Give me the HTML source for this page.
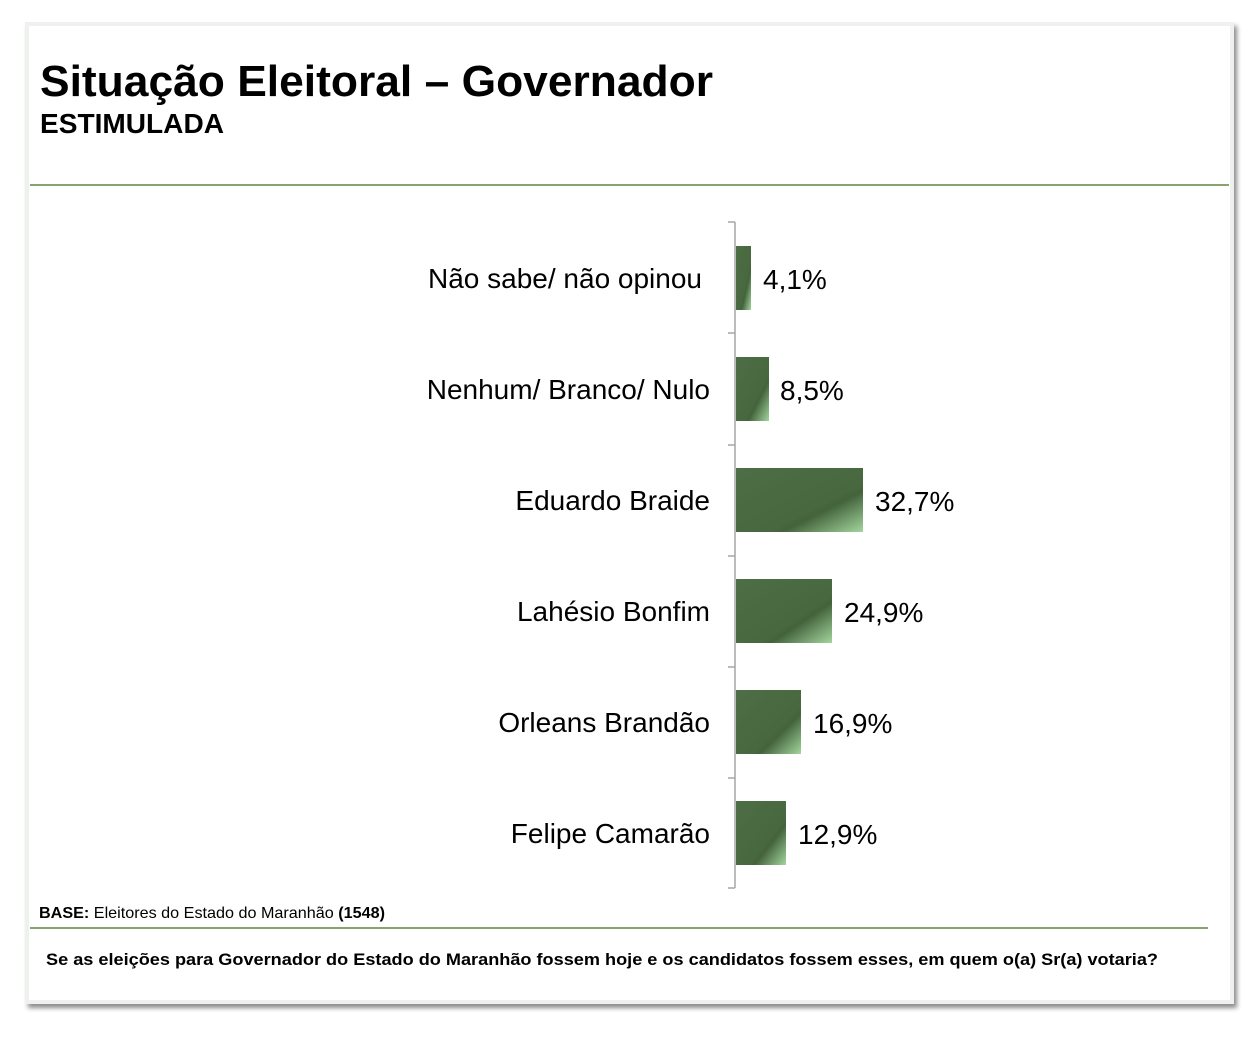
<!DOCTYPE html>
<html><head><meta charset="utf-8"><style>
html,body{margin:0;padding:0;background:#fff;width:1260px;height:1038px;overflow:hidden}
svg{display:block}
text{font-family:"Liberation Sans",Arial,sans-serif;fill:#000}
</style></head><body>
<svg width="1260" height="1038" viewBox="0 0 1260 1038" xmlns="http://www.w3.org/2000/svg">
<defs>
<linearGradient id="g" x1="0" y1="0" x2="1" y2="1">
<stop offset="0" stop-color="#4d6e46"/>
<stop offset="0.62" stop-color="#48683f"/>
<stop offset="0.68" stop-color="#44633c"/>
<stop offset="1" stop-color="#a3d69e"/>
</linearGradient>
<filter id="sh" x="-5%" y="-5%" width="110%" height="110%">
<feDropShadow dx="3" dy="4" stdDeviation="2.5" flood-color="#000" flood-opacity="0.45"/>
</filter>
</defs>
<rect x="25" y="22" width="1209" height="982" fill="#eef1ee" filter="url(#sh)"/>
<rect x="29" y="26" width="1201" height="974" fill="#ffffff"/>

<text x="40" y="96" font-size="44" font-weight="bold" textLength="673" lengthAdjust="spacingAndGlyphs">Situação Eleitoral – Governador</text>
<text x="40" y="133" font-size="27.5" font-weight="bold" textLength="184" lengthAdjust="spacingAndGlyphs">ESTIMULADA</text>
<rect x="30" y="184" width="1199" height="2" fill="#86a374"/>

<!-- axis -->
<g stroke="#a6a6a6" stroke-width="1.5" fill="none">
<line x1="735" y1="222" x2="735" y2="888"/>
<line x1="728" y1="222" x2="735" y2="222"/>
<line x1="728" y1="333" x2="735" y2="333"/>
<line x1="728" y1="445" x2="735" y2="445"/>
<line x1="728" y1="556" x2="735" y2="556"/>
<line x1="728" y1="667" x2="735" y2="667"/>
<line x1="728" y1="778" x2="735" y2="778"/>
<line x1="728" y1="888" x2="735" y2="888"/>
</g>

<!-- bars -->
<rect x="736" y="246" width="15" height="64" fill="url(#g)"/>
<rect x="736" y="357" width="33" height="64" fill="url(#g)"/>
<rect x="736" y="468" width="127" height="64" fill="url(#g)"/>
<rect x="736" y="579" width="96" height="64" fill="url(#g)"/>
<rect x="736" y="690" width="65" height="64" fill="url(#g)"/>
<rect x="736" y="801" width="50" height="64" fill="url(#g)"/>

<!-- labels -->
<g font-size="28" text-anchor="end">
<text x="702" y="288">Não sabe/ não opinou</text>
<text x="710" y="399">Nenhum/ Branco/ Nulo</text>
<text x="710" y="510">Eduardo Braide</text>
<text x="710" y="621">Lahésio Bonfim</text>
<text x="710" y="732">Orleans Brandão</text>
<text x="710" y="843">Felipe Camarão</text>
</g>
<g font-size="28">
<text x="763" y="289">4,1%</text>
<text x="780" y="400">8,5%</text>
<text x="875" y="511">32,7%</text>
<text x="844" y="622">24,9%</text>
<text x="813" y="733">16,9%</text>
<text x="798" y="844">12,9%</text>
</g>

<text x="39" y="918" font-size="16" textLength="346" lengthAdjust="spacingAndGlyphs"><tspan font-weight="bold">BASE:</tspan> Eleitores do Estado do Maranhão <tspan font-weight="bold">(1548)</tspan></text>
<rect x="30" y="927" width="1178" height="2" fill="#86a374"/>
<text x="46" y="965" font-size="17" font-weight="bold" textLength="1112" lengthAdjust="spacingAndGlyphs">Se as eleições para Governador do Estado do Maranhão fossem hoje e os candidatos fossem esses, em quem o(a) Sr(a) votaria?</text>
</svg>
</body></html>
